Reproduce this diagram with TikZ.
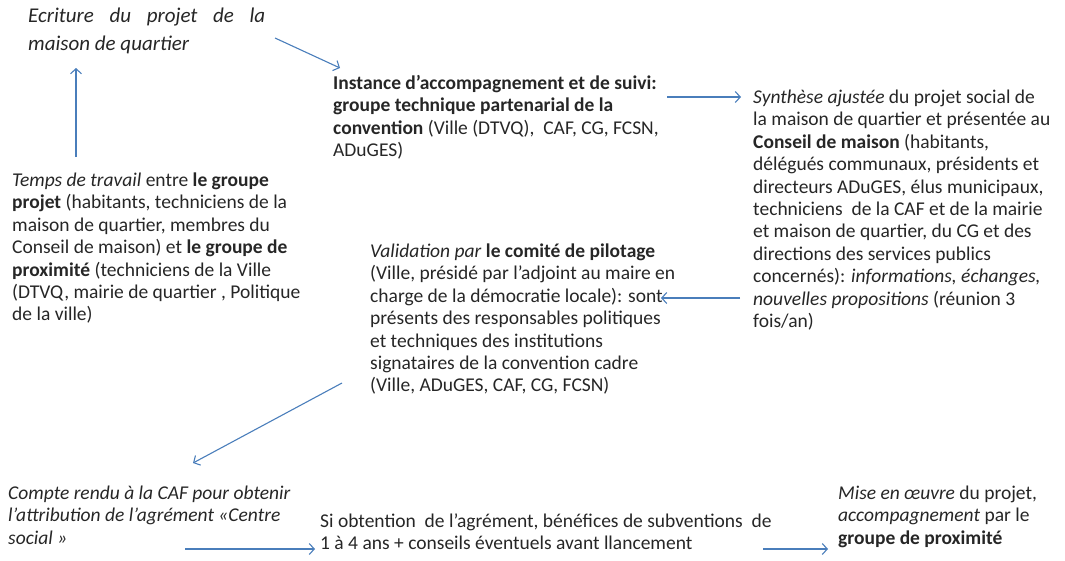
\documentclass[tikz,border=0pt]{standalone}
\usepackage{fontspec}
\setmainfont{Carlito}
\usetikzlibrary{arrows.meta}
\definecolor{arrowblue}{RGB}{74,126,187}
\definecolor{txtgray}{RGB}{38,38,38}

\begin{document}
\begin{tikzpicture}[x=1pt,y=-1pt,
    txt/.style={anchor=base west, align=left, inner sep=0pt, text=txtgray, font=\fontsize{19.5}{22.4}\selectfont},
    link/.style={draw=arrowblue, line width=1.1pt, -{Straight Barb[length=5pt,width=11pt]}}]
    \useasboundingbox (0,0) rectangle (1065,560);

    \node[txt, font=\fontsize{21}{28}\selectfont\itshape] (ecriture) at (28,50)
        {\makebox[237pt][s]{Ecriture du projet de la}\\maison de quartier};
    \node[txt] (instance) at (333,156.7)
        {\textbf{Instance d’accompagnement et de suivi:}\\
         \textbf{groupe technique partenarial de la}\\
         \textbf{convention} (Ville (DTVQ),\ \ CAF, CG, FCSN,\\
         ADuGES)};
    \node[txt] (synthese) at (753,327.4)
        {\textit{Synthèse ajustée} du projet social de\\
         la maison de quartier et présentée au\\
         \textbf{Conseil de maison} (habitants,\\
         délégués communaux, présidents et\\
         directeurs ADuGES, élus municipaux,\\
         techniciens\ \ de la CAF et de la mairie\\
         et maison de quartier, du CG et des\\
         directions des services publics\\
         concernés): \textit{informations, échanges,}\\
         \textit{nouvelles propositions} (réunion 3\\
         fois/an)};
    \node[txt] (temps) at (12,320.8)
        {\textit{Temps de travail} entre \textbf{le groupe}\\
         \textbf{projet} (habitants, techniciens de la\\
         maison de quartier, membres du\\
         Conseil de maison) et \textbf{le groupe de}\\
         \textbf{proximité} (techniciens de la Ville\\
         (DTVQ, mairie de quartier , Politique\\
         de la ville)};
    \node[txt] (validation) at (370,391.8)
        {\textit{Validation par}\ \textbf{le comité de pilotage}\\
         (Ville, présidé par l’adjoint au maire en\\
         charge de la démocratie locale): sont\\
         présents des responsables politiques\\
         et techniques des institutions\\
         signataires de la convention cadre\\
         (Ville, ADuGES, CAF, CG, FCSN)};
    \node[txt] (compte) at (8,544.2)
        {\textit{Compte rendu à la CAF pour obtenir}\\
         \textit{l’attribution de l’agrément «Centre}\\
         \textit{social »}};
    \node[txt] (agrement) at (320,549.8)
        {Si obtention\ \ de l’agrément, bénéfices de subventions\ \ de\\
         1 à 4 ans + conseils éventuels avant llancement};
    \node[txt] (miseenoeuvre) at (838,544.2)
        {\textit{Mise en œuvre} du projet,\\
         \textit{accompagnement} par le\\
         \textbf{groupe de proximité}};

    \coordinate (ecritureout) at (275,38);
    \coordinate (instancein) at (340,68);
    \coordinate (tempsout) at (76,157);
    \coordinate (ecriturein) at (76,68);
    \coordinate (instanceout) at (667,97);
    \coordinate (synthesein) at (741,97);
    \coordinate (syntheseout) at (740,298);
    \coordinate (validationin) at (661,298);
    \coordinate (validationout) at (342,383);
    \coordinate (comptein) at (193,463);
    \coordinate (compteout) at (185,549);
    \coordinate (agrementin) at (315,549);
    \coordinate (agrementout) at (763,549);
    \coordinate (miseenoeuvrein) at (828,549);

    \draw[link] (ecritureout) -- (instancein);
    \draw[link] (tempsout) -- (ecriturein);
    \draw[link] (instanceout) -- (synthesein);
    \draw[link] (syntheseout) -- (validationin);
    \draw[link] (validationout) -- (comptein);
    \draw[link] (compteout) -- (agrementin);
    \draw[link] (agrementout) -- (miseenoeuvrein);
\end{tikzpicture}
\end{document}
